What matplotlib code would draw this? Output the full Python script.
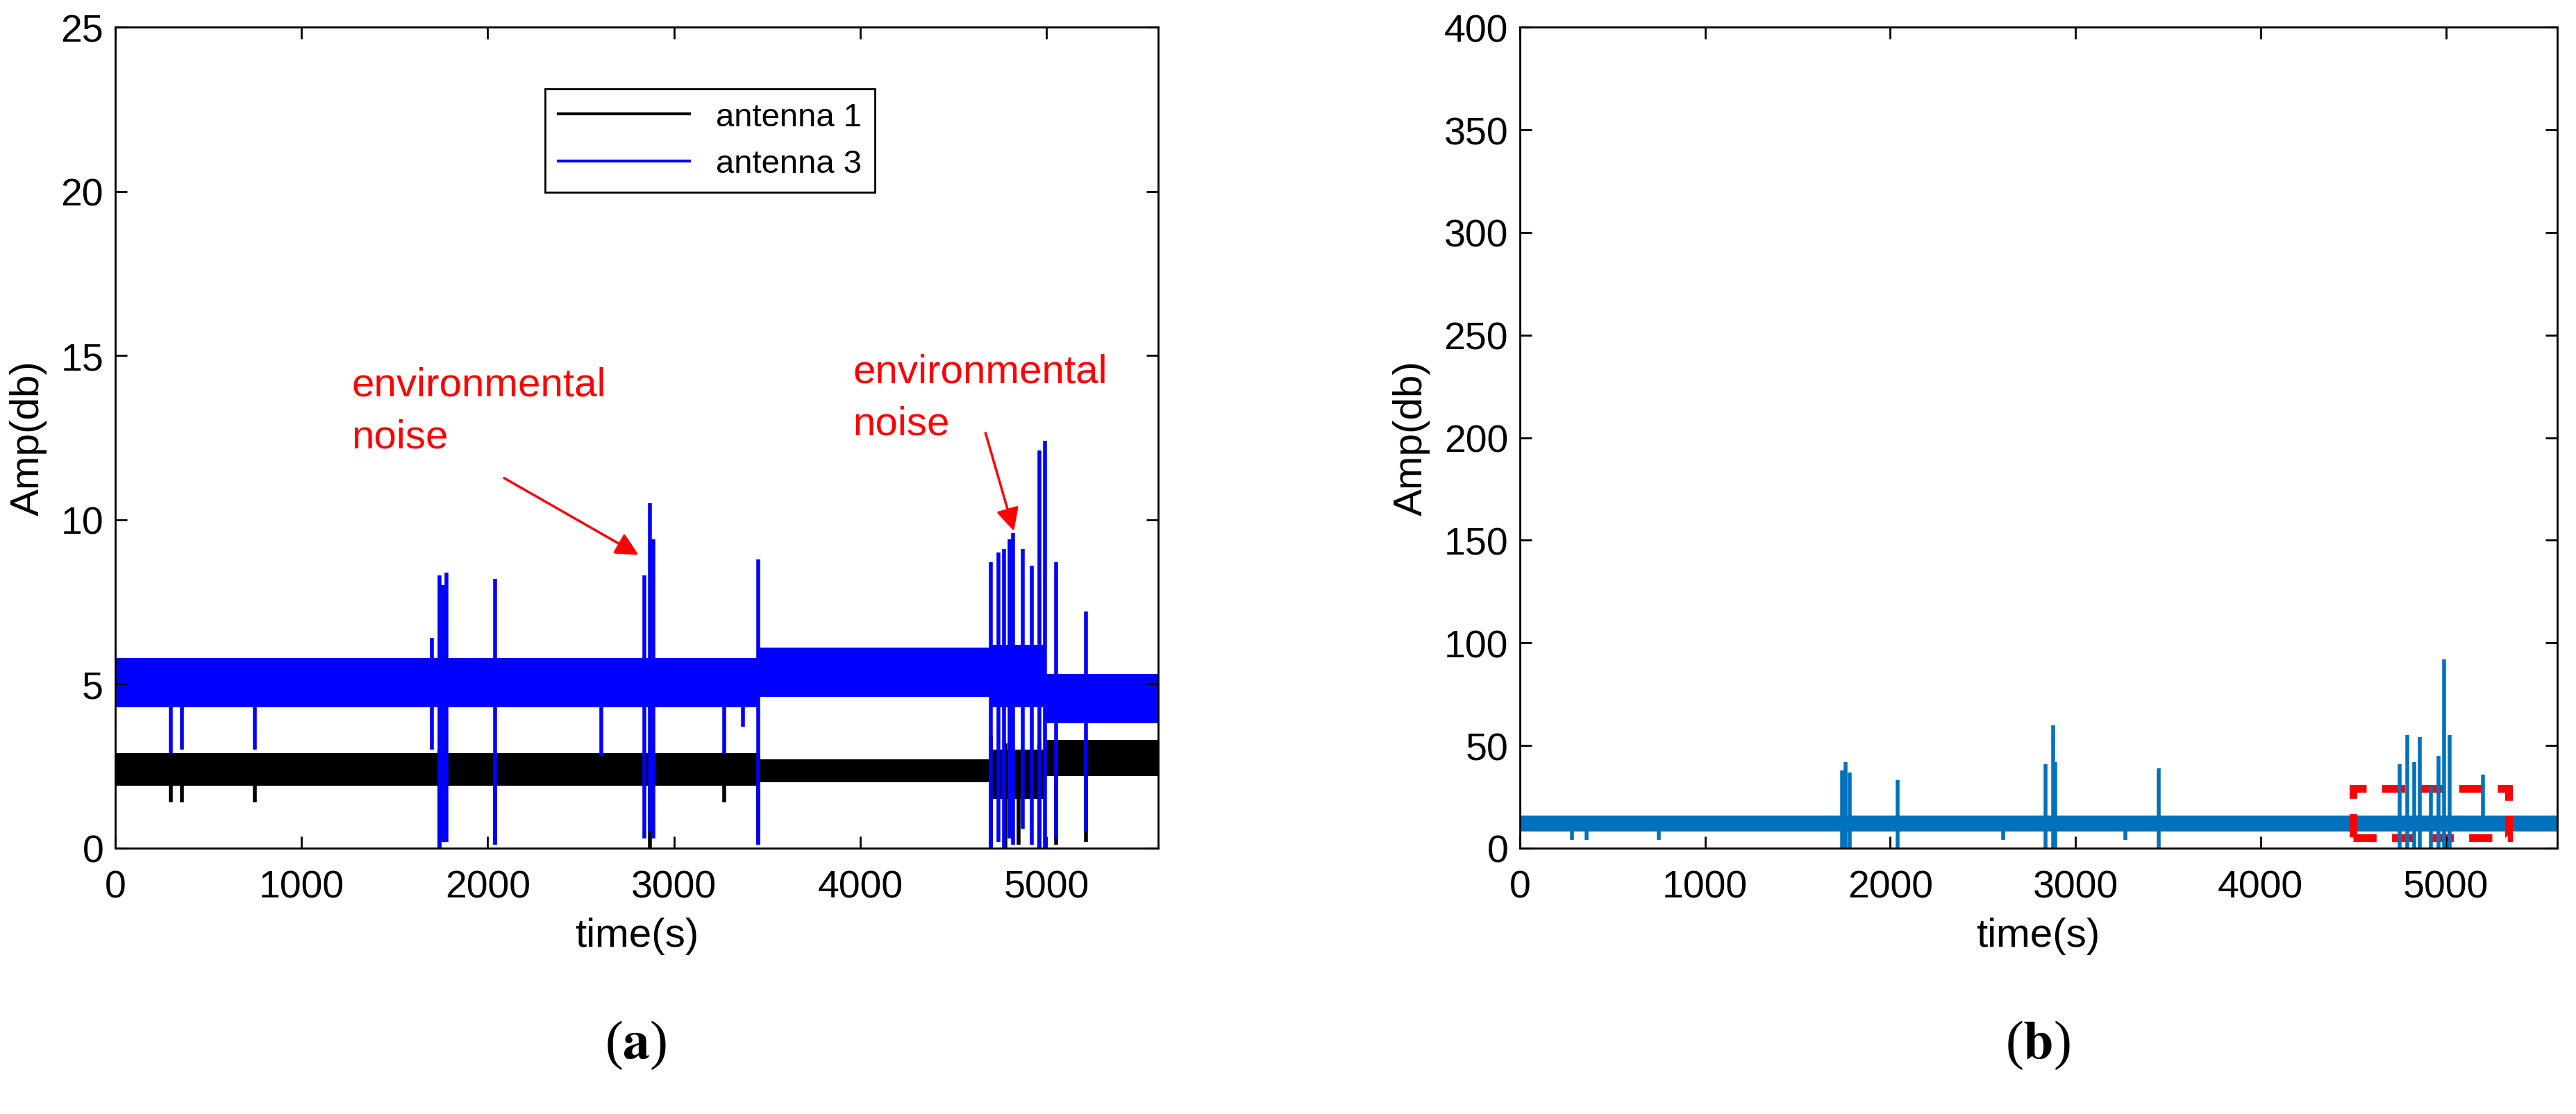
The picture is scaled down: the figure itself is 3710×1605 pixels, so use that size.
import numpy as np
import matplotlib.pyplot as plt
from matplotlib.patches import Rectangle

plt.rcParams["font.family"] = ["Liberation Sans", "DejaVu Sans"]
plt.rcParams["mathtext.fontset"] = "stix"

# 噪声带包络 (起点, 终点, 下界, 上界)
ant3_band = [(0, 3450, 4.3, 5.8), (3450, 4700, 4.6, 6.1), (4700, 5000, 4.3, 6.2), (5000, 5600, 3.8, 5.3)]
ant1_band = [(0, 3450, 1.9, 2.9), (3450, 4700, 2.0, 2.7), (4700, 5000, 1.5, 3.0), (5000, 5600, 2.2, 3.3)]
# 尖峰 (时间, 最小, 最大)
ant3_spikes = [(300, 2.9, 5.5), (360, 3.0, 5.5), (750, 3.0, 5.5), (1700, 3.0, 6.4), (1740, 0, 8.3),
               (1760, 0.2, 8.0), (1780, 0.2, 8.4), (2040, 0.1, 8.2), (2610, 2.8, 5.5), (2840, 0.3, 8.3),
               (2870, 0.5, 10.5), (2890, 0.3, 9.4), (3270, 2.9, 5.5), (3370, 3.7, 5.5), (3450, 0.1, 8.8),
               (4700, 0, 8.7), (4740, 0.2, 9.0), (4770, 0, 9.1), (4800, 0.3, 9.4), (4820, 0.1, 9.6),
               (4870, 0.6, 9.1), (4920, 0.1, 8.6), (4960, 0, 12.1), (4990, 0, 12.4), (5050, 0.3, 8.7),
               (5210, 0.5, 7.2)]
ant1_spikes = [(300, 1.4, 2.8), (360, 1.4, 2.8), (750, 1.4, 2.8), (1740, 0, 3.0), (2040, 0.1, 2.8),
               (2870, 0, 3.0), (3270, 1.4, 2.9), (3450, 0.1, 2.9), (4700, 0, 3.4), (4780, 0, 3.2),
               (4850, 0.1, 3.0), (4960, 0, 3.2), (5050, 0.1, 3.2), (5210, 0.2, 3.0)]
diff_band = [(0, 5600, 8, 16)]
diff_spikes = [(280, 4, 12), (360, 4, 12), (750, 4, 12), (1740, 0, 38), (1760, 0, 42), (1780, 0, 37),
               (2040, 0, 33), (2610, 4, 12), (2840, 0, 41), (2880, 0, 60), (2890, 0, 42), (3270, 4, 12),
               (3450, 0, 39), (4750, 0, 41), (4790, 0, 55), (4830, 0, 42), (4860, 0, 54), (4920, 0, 30),
               (4960, 0, 45), (4990, 0, 92), (5020, 0, 55), (5200, 10, 36)]

fig = plt.figure(figsize=(37.1, 16.06), dpi=100)
ax1 = fig.add_axes([0.0447, 0.2385, 0.405, 0.7365])
ax2 = fig.add_axes([0.590, 0.2385, 0.4026, 0.7365])


def draw(ax, bands, spikes, color, label=None):
    for s, e, lo, hi in bands:
        ax.fill_between([s, e], lo, hi, color=color, lw=0)
    xs = [p[0] for p in spikes]
    ax.vlines(xs, [p[1] for p in spikes], [p[2] for p in spikes], color=color, lw=4)
    ax.plot([], [], color=color, lw=3, label=label)


draw(ax1, ant1_band, ant1_spikes, "black", "antenna 1")
draw(ax1, ant3_band, ant3_spikes, "blue", "antenna 3")
draw(ax2, diff_band, diff_spikes, "#0072BD")

for ax, ymax, yt in [(ax1, 25, range(0, 26, 5)), (ax2, 400, range(0, 401, 50))]:
    ax.set_xlim(0, 5600)
    ax.set_ylim(0, ymax)
    ax.set_xticks(range(0, 5001, 1000))
    ax.set_yticks(list(yt))
    ax.tick_params(direction="in", top=True, right=True, labelsize=40, length=12, width=2)
    ax.tick_params(axis="x", pad=22)
    ax.tick_params(axis="y", pad=12)
    for sp in ax.spines.values():
        sp.set_linewidth(2)
    ax.set_xlabel("time(s)", fontsize=42, labelpad=12)
    ax.set_ylabel("Amp(db)", fontsize=42, labelpad=14)

leg = ax1.legend(loc="upper center", bbox_to_anchor=(0.57, 0.945), fontsize=34, fancybox=False,
                 edgecolor="black", framealpha=1, handlelength=4)
leg.get_frame().set_linewidth(2)

ax1.text(1270, 12.2, "environmental\nnoise", color="red", fontsize=42, linespacing=1.5)
ax1.text(3960, 12.6, "environmental\nnoise", color="red", fontsize=42, linespacing=1.5)
ax1.annotate("", xy=(2819, 8.9), xytext=(2079, 11.3),
             arrowprops=dict(arrowstyle="-|>", color="red", lw=2.5, mutation_scale=50))
ax1.annotate("", xy=(4827, 9.6), xytext=(4669, 12.7),
             arrowprops=dict(arrowstyle="-|>", color="red", lw=2.5, mutation_scale=50))

ax2.add_patch(Rectangle((4500, 5), 840, 24, fill=False, edgecolor="red", lw=8, ls=(0, (3, 2))))

fig.text(0.2469, 0.05, r"($\mathbf{a}$)", fontsize=56, ha="center", family="Liberation Serif")
fig.text(0.791, 0.05, r"($\mathbf{b}$)", fontsize=56, ha="center", family="Liberation Serif")

fig.savefig("out.png", dpi=100)
